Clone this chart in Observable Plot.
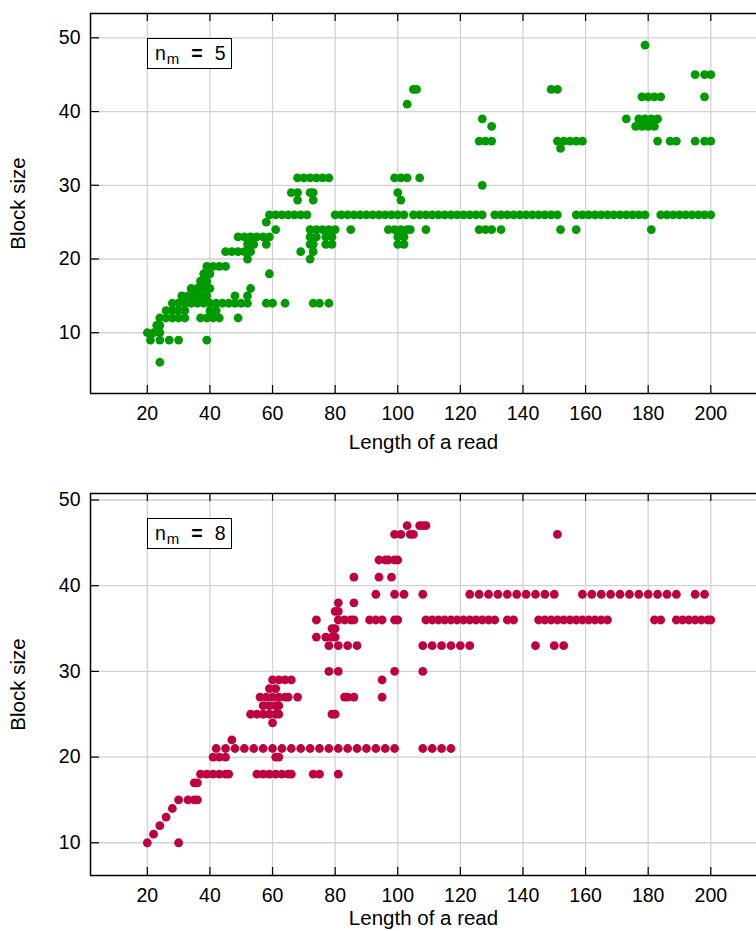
<!DOCTYPE html>
<html><head><meta charset="utf-8">
<script src="https://cdn.jsdelivr.net/npm/d3@7"></script>
<script src="https://cdn.jsdelivr.net/npm/@observablehq/plot@0.6"></script>
<style>
body { margin:0; background:#fff; font-family:"Liberation Sans", Arial, sans-serif; }
.panel { position:relative; width:756px; }
.legend { position:absolute; left:147px; width:85px; height:31px; box-sizing:border-box; border:1.2px solid #000; background:#fff; font-size:19.5px; line-height:29px; padding-left:7px; white-space:nowrap; color:#000; }
.legend .sub { font-size:15px; position:relative; top:4px; margin-left:1px; }
.legend .eq { margin-left:12px; font-weight:bold; }
.legend .val { margin-left:12px; }
</style></head><body>
<div id="chart"></div>
<script>
const lengthTicks = [20,40,60,80,100,120,140,160,180,200];
const blockTicks = [10,20,30,40,50];

// n_m = 5 : [length of a read, block size]
const nm5Points = [
 [24,6],
 [21,9],[24,9],[27,9],[30,9],[39,9],
 [20,10],[22,10],[24,10],
 [23,11],[24,11],
 [24,12],[26,12],[28,12],[30,12],[32,12],[37,12],[39,12],[41,12],[43,12],[49,12],
 [26,13],[28,13],[30,13],[32,13],[40,13],[42,13],
 [28,14],[30,14],[32,14],[34,14],[36,14],[38,14],[40,14],[42,14],[44,14],[46,14],[48,14],[50,14],[52,14],[58,14],[60,14],[64,14],[73,14],[75,14],[78,14],
 [31,15],[33,15],[35,15],[37,15],[39,15],[48,15],[52,15],
 [34,16],[36,16],[38,16],[40,16],[53,16],
 [37,17],[39,17],
 [38,18],[40,18],[59,18],
 [39,19],[41,19],[43,19],[45,19],
 [52,20],[72,20],
 [45,21],[47,21],[49,21],[51,21],[53,21],[69,21],[73,21],
 [52,22],[54,22],[58,22],[72,22],[73,22],[77,22],[79,22],[100,22],[102,22],
 [49,23],[51,23],[53,23],[55,23],[57,23],[59,23],[72,23],[74,23],[77,23],[79,23],[100,23],[102,23],
 [61,24],[72,24],[74,24],[76,24],[78,24],[80,24],[85,24],[97,24],[99,24],[101,24],[103,24],[104,24],[109,24],[126,24],[128,24],[130,24],[133,24],[152,24],[157,24],[181,24],
 [58,25],
 [59,26],[61,26],[63,26],[65,26],[67,26],[69,26],[71,26],
 [80,26],[82,26],[84,26],[86,26],[88,26],[90,26],[92,26],[94,26],[96,26],[98,26],[100,26],[102,26],
 [105,26],[107,26],[109,26],[111,26],[113,26],[115,26],[117,26],[119,26],[121,26],[123,26],[125,26],[127,26],
 [131,26],[133,26],[135,26],[137,26],[139,26],[141,26],[143,26],[145,26],[147,26],[149,26],[151,26],
 [157,26],[159,26],[161,26],[163,26],[165,26],[167,26],[169,26],[171,26],[173,26],[175,26],[177,26],[179,26],
 [184,26],[186,26],[188,26],[190,26],[192,26],[194,26],[196,26],[198,26],[200,26],
 [68,28],[73,28],[101,28],
 [66,29],[68,29],[72,29],[73,29],[100,29],
 [127,30],
 [68,31],[70,31],[72,31],[74,31],[76,31],[78,31],[99,31],[101,31],[103,31],[107,31],
 [152,35],
 [126,36],[128,36],[130,36],[151,36],[153,36],[155,36],[157,36],[159,36],[183,36],[187,36],[189,36],[195,36],[198,36],[200,36],
 [130,38],[176,38],[178,38],[180,38],[182,38],
 [127,39],[173,39],[177,39],[179,39],[181,39],[183,39],
 [103,41],
 [178,42],[180,42],[182,42],[184,42],[198,42],
 [105,43],[106,43],[149,43],[151,43],
 [195,45],[198,45],[200,45],
 [179,49]
];

// n_m = 8 : [length of a read, block size]
const nm8Points = [
 [20,10],[30,10],
 [22,11],[24,12],[26,13],[28,14],
 [30,15],[33,15],[35,15],[36,15],
 [35,17],[36,17],
 [37,18],[39,18],[41,18],[43,18],[45,18],[46,18],[55,18],[57,18],[59,18],[61,18],[63,18],[65,18],[66,18],[73,18],[75,18],[81,18],
 [41,20],[43,20],[45,20],[61,20],[62,20],
 [42,21],[45,21],[48,21],[51,21],[54,21],[57,21],[60,21],[63,21],[66,21],[69,21],[72,21],[75,21],[78,21],[81,21],[84,21],[87,21],[90,21],[93,21],[96,21],[99,21],[108,21],[111,21],[114,21],[117,21],
 [47,22],
 [60,24],
 [53,25],[55,25],[57,25],[59,25],[61,25],[62,25],[79,25],[80,25],
 [57,26],[59,26],[61,26],[62,26],
 [56,27],[58,27],[60,27],[62,27],[64,27],[65,27],[68,27],[83,27],[84,27],[86,27],[95,27],
 [59,28],[61,28],
 [60,29],[62,29],[64,29],[66,29],[95,29],
 [78,30],[81,30],[99,30],[108,30],
 [78,33],[81,33],[84,33],[87,33],[108,33],[111,33],[114,33],[117,33],[120,33],[123,33],[144,33],[150,33],[153,33],
 [74,34],[77,34],[79,34],[80,34],
 [79,35],[80,35],
 [74,36],[81,36],[83,36],[85,36],[86,36],[91,36],[93,36],[95,36],[99,36],[100,36],
 [109,36],[111,36],[113,36],[115,36],[117,36],[119,36],[121,36],[123,36],[125,36],[127,36],[129,36],[131,36],[135,36],[137,36],
 [145,36],[147,36],[149,36],[151,36],[153,36],[155,36],[157,36],[159,36],[161,36],[163,36],[165,36],[167,36],
 [182,36],[184,36],[189,36],[191,36],[193,36],[195,36],[197,36],[199,36],[200,36],
 [80,37],[81,37],
 [81,38],[86,38],
 [93,39],[99,39],[102,39],[108,39],[123,39],[126,39],[129,39],[132,39],[135,39],[138,39],[141,39],[144,39],[147,39],[150,39],
 [159,39],[162,39],[165,39],[168,39],[171,39],[174,39],[177,39],[180,39],[183,39],[186,39],[189,39],[195,39],[198,39],
 [86,41],[94,41],[98,41],
 [94,43],[96,43],[97,43],[99,43],[100,43],
 [99,46],[101,46],[104,46],[105,46],[151,46],
 [103,47],[107,47],[108,47],[109,47]
];

const panels = [
  {nm: "5", color: "#009a00", points: nm5Points, yDomain: [1.76, 53.3], height: 472, marginTop: 13, marginBottom: 79, titleDy: 49},
  {nm: "8", color: "#be0040", points: nm8Points, yDomain: [6.18, 50.76], height: 459, marginTop: 21, marginBottom: 56, titleDy: 43}
];

const font = '"Liberation Sans", Arial, sans-serif';
const width = 756, marginLeft = 90, marginRight = 0;
const xDomain = [1.85, 214.6];

const root = document.getElementById("chart");
for (const p of panels) {
  const innerH = p.height - p.marginTop - p.marginBottom;
  const innerW = width - marginLeft - marginRight;
  const svg = Plot.plot({
    width, height: p.height,
    marginLeft, marginRight, marginTop: p.marginTop, marginBottom: p.marginBottom,
    style: {fontFamily: font, fontSize: "19.5px", color: "#000", background: "#fff", overflow: "visible"},
    x: {domain: xDomain, label: null},
    y: {domain: p.yDomain, label: null},
    marks: [
      Plot.gridX(lengthTicks, {stroke: "#d2d2d2", strokeOpacity: 1, strokeWidth: 1.3}),
      Plot.gridY(blockTicks, {stroke: "#d2d2d2", strokeOpacity: 1, strokeWidth: 1.3}),
      Plot.dot(p.points, {x: d => d[0], y: d => d[1], r: 4.4, fill: p.color, stroke: null}),
      Plot.tickX(lengthTicks, {x: d => d, insetTop: innerH - 8, stroke: "#000", strokeWidth: 1.2}),
      Plot.tickX(lengthTicks, {x: d => d, insetBottom: innerH - 8, stroke: "#000", strokeWidth: 1.2}),
      Plot.tickY(blockTicks, {y: d => d, insetRight: innerW - 9, stroke: "#000", strokeWidth: 1.2}),
      Plot.ruleX([xDomain[0]], {stroke: "#000", strokeWidth: 1.5}),
      Plot.ruleY([p.yDomain[0]], {stroke: "#000", strokeWidth: 1.5}),
      Plot.ruleY([p.yDomain[1]], {stroke: "#000", strokeWidth: 1.5}),
      Plot.axisX(lengthTicks, {anchor: "bottom", tickSize: 0, tickPadding: 13, fontSize: 19.5, label: null}),
      Plot.axisY(blockTicks, {anchor: "left", tickSize: 0, tickPadding: 10, fontSize: 19.5, label: null}),
      Plot.text(["Length of a read"], {frameAnchor: "bottom", dy: p.titleDy, lineAnchor: "middle", textAnchor: "middle", text: d => d, fontSize: 20.5, fill: "#000"}),
      Plot.text(["Block size"], {frameAnchor: "left", dx: -72, rotate: -90, lineAnchor: "middle", textAnchor: "middle", text: d => d, fontSize: 20.5, fill: "#000"})
    ]
  });
  const div = document.createElement("div");
  div.className = "panel";
  div.style.height = p.height + "px";
  div.appendChild(svg);
  const lg = document.createElement("div");
  lg.className = "legend";
  lg.style.top = (p.marginTop + 25) + "px";
  lg.innerHTML = `n<span class="sub">m</span><span class="eq">=</span><span class="val">${p.nm}</span>`;
  div.appendChild(lg);
  root.appendChild(div);
}
</script>
</body></html>
